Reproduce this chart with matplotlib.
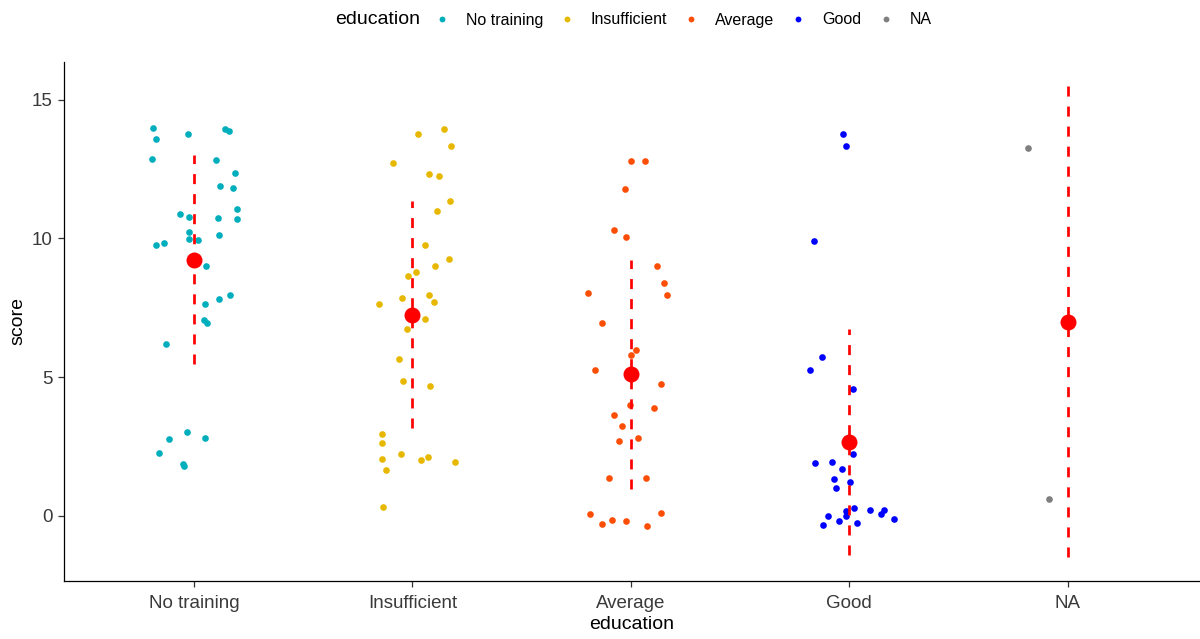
import matplotlib
matplotlib.use("Agg")
import matplotlib.pyplot as plt
from matplotlib.lines import Line2D

plt.rcParams["font.family"] = ["Liberation Sans", "DejaVu Sans"]

categories = ["No training", "Insufficient", "Average", "Good", "NA"]
colors = ["#00AFBB", "#E7B800", "#FC4E07", "#0000FF", "#7F7F7F"]

# jittered horizontal offsets and scores of each observation
no_training_dx = [-0.188, -0.175, -0.027, 0.140, 0.160, -0.192, 0.102, 0.188, 0.119, 0.177,
                  0.198, -0.063, -0.021, 0.108, 0.198, -0.021, 0.113, -0.021, 0.017, -0.175,
                  -0.136, 0.056, 0.165, 0.113, 0.052, 0.046, 0.058, -0.130, -0.034, -0.113,
                  0.052, -0.160, -0.052, -0.044]
no_training_score = [13.98, 13.57, 13.76, 13.94, 13.88, 12.86, 12.83, 12.37, 11.88, 11.83,
                     11.07, 10.89, 10.76, 10.72, 10.71, 10.23, 10.13, 9.99, 9.95, 9.77,
                     9.82, 9.02, 7.95, 7.80, 7.63, 7.05, 6.96, 6.19, 3.02, 2.75,
                     2.80, 2.26, 1.85, 1.80]

insufficient_dx = [0.027, 0.146, 0.179, -0.088, 0.076, 0.121, 0.173, 0.111, 0.060, 0.167,
                   0.104, 0.016, -0.019, -0.048, -0.154, 0.076, 0.100, 0.060, -0.025, -0.059,
                   -0.042, 0.081, -0.138, -0.138, -0.053, -0.138, 0.038, 0.071, 0.196, -0.121,
                   -0.133]
insufficient_score = [13.76, 13.93, 13.31, 12.73, 12.32, 12.24, 11.35, 10.99, 9.77, 9.25,
                      9.02, 8.79, 8.66, 7.85, 7.63, 7.95, 7.72, 7.09, 6.73, 5.66,
                      4.86, 4.68, 2.93, 2.62, 2.22, 2.04, 2.00, 2.13, 1.95, 1.64,
                      0.30]

average_dx = [0.000, 0.064, -0.027, -0.079, -0.021, 0.120, 0.154, 0.165, -0.197, -0.130,
              0.024, 0.000, -0.163, 0.137, -0.005, 0.108, -0.079, -0.040, 0.035, -0.056,
              -0.101, 0.069, -0.186, 0.137, -0.130, -0.086, -0.021, 0.075]
average_score = [12.77, 12.77, 11.78, 10.31, 10.04, 9.02, 8.38, 7.95, 8.03, 6.96,
                 5.98, 5.80, 5.25, 4.76, 3.99, 3.87, 3.64, 3.25, 2.80, 2.70,
                 1.36, 1.36, 0.06, 0.11, -0.30, -0.16, -0.20, -0.35]

good_dx = [-0.031, -0.013, -0.161, -0.126, -0.178, 0.015, 0.015, -0.156, -0.081, -0.032,
           -0.072, 0.004, -0.063, 0.022, 0.094, 0.158, 0.144, -0.016, -0.013, -0.097,
           0.203, -0.048, -0.121, 0.037]
good_score = [13.75, 13.31, 9.91, 5.71, 5.25, 4.58, 2.21, 1.90, 1.95, 1.68,
              1.32, 1.23, 1.00, 0.29, 0.21, 0.21, 0.06, 0.16, 0.00, -0.02,
              -0.12, -0.20, -0.34, -0.25]

na_dx = [-0.180, -0.084]
na_score = [13.26, 0.60]

group_dx = [no_training_dx, insufficient_dx, average_dx, good_dx, na_dx]
group_score = [no_training_score, insufficient_score, average_score, good_score, na_score]

# group mean and standard deviation
mean_score = [9.23, 7.25, 5.10, 2.67, 7.00]
sd_score = [3.76, 4.10, 4.12, 4.07, 8.485]

fig = plt.figure(figsize=(12, 6.39), dpi=100)
ax = fig.add_axes([0.0533, 0.0912, 0.9457, 0.812])

for i, (dx, sc, col) in enumerate(zip(group_dx, group_score, colors)):
    xs = [i + 1 + d for d in dx]
    ax.scatter(xs, sc, s=23, color=col, linewidths=0, zorder=3)

for i, (m, s) in enumerate(zip(mean_score, sd_score)):
    ax.plot([i + 1, i + 1], [m - s, m + s], color="#FF0000", linewidth=1.95,
            linestyle=(0, (3.7, 3.7)), zorder=4)
    ax.plot([i + 1], [m], marker="o", markersize=11.5, color="#FF0000",
            markeredgewidth=0, zorder=5)

ax.set_xlim(0.405, 5.6)
ax.set_ylim(-2.34, 16.36)
ax.set_xticks(range(1, 6))
ax.set_xticklabels(categories)
ax.set_yticks([0, 5, 10, 15])

for side in ["top", "right"]:
    ax.spines[side].set_visible(False)
for side in ["left", "bottom"]:
    ax.spines[side].set_linewidth(0.9)
    ax.spines[side].set_color("#000000")

ax.tick_params(axis="both", direction="out", length=4, width=0.9, color="#333333",
               labelsize=13.5, labelcolor="#3A3A3A")
ax.tick_params(axis="x", pad=6)
ax.tick_params(axis="y", pad=4)
ax.set_xlabel("education", fontsize=14, color="#000000", labelpad=3)
ax.set_ylabel("score", fontsize=14, color="#000000", labelpad=4)

# legend across the top
fig.text(335 / 1200, 1 - 20 / 639, "education", fontsize=14, va="center", ha="left")
handles = [Line2D([], [], linestyle="none", marker="o", markersize=4.2,
                  color=c, markeredgewidth=0) for c in colors]
fig.legend(handles, categories, ncol=5, loc="center left",
           bbox_to_anchor=(432 / 1200, 1 - 20 / 639), frameon=False,
           fontsize=11.5, handletextpad=0.9, columnspacing=0.9, handlelength=1.2,
           borderaxespad=0, borderpad=0)

fig.savefig("out.png", dpi=100)
